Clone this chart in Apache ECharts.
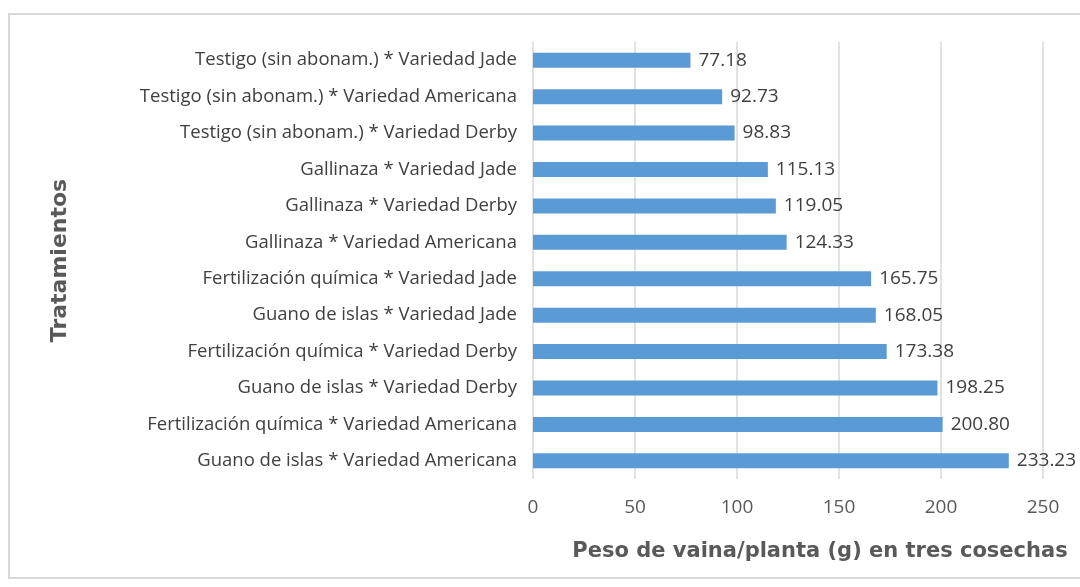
<!DOCTYPE html>
<html>
<head>
<meta charset="utf-8">
<script src="https://cdn.jsdelivr.net/npm/echarts@6/dist/echarts.min.js"></script>
<style>
  html, body { margin: 0; padding: 0; background: #fff; }
  #chart { width: 1080px; height: 587px; }
  #frame { position: absolute; left: 8px; top: 13px; width: 1090px; height: 566px; border: 2px solid #d9d9d9; box-sizing: border-box; pointer-events: none; }
</style>
</head>
<body>
<div id="chart"></div>
<div id="frame"></div>
<script>
// tratamientos, de abajo hacia arriba
const categories = [
  'Guano de islas * Variedad Americana',
  'Fertilización química * Variedad Americana',
  'Guano de islas * Variedad Derby',
  'Fertilización química * Variedad Derby',
  'Guano de islas * Variedad Jade',
  'Fertilización química * Variedad Jade',
  'Gallinaza * Variedad Americana',
  'Gallinaza * Variedad Derby',
  'Gallinaza * Variedad Jade',
  'Testigo (sin abonam.) * Variedad Derby',
  'Testigo (sin abonam.) * Variedad Americana',
  'Testigo (sin abonam.) * Variedad Jade'
];
const pesoVaina = [233.23, 200.80, 198.25, 173.38, 168.05, 165.75, 124.33, 119.05, 115.13, 98.83, 92.73, 77.18];
const xTicks = [0, 50, 100, 150, 200, 250];

const chart = echarts.init(document.getElementById('chart'));
const font = '"Open Sans", sans-serif';
const titleFont = '"DejaVu Sans", sans-serif';

chart.setOption({
  animation: false,
  grid: { left: 533, right: 37, top: 42, height: 437 },
  xAxis: {
    type: 'value',
    min: xTicks[0],
    max: xTicks[xTicks.length - 1],
    interval: 50,
    axisLine: { show: false },
    axisTick: { show: false },
    axisLabel: { color: '#595959', fontSize: 19, fontFamily: font, margin: 19 },
    splitLine: { lineStyle: { color: '#d9d9d9', width: 1.5 } },
    name: 'Peso de vaina/planta (g) en tres cosechas',
    nameLocation: 'middle',
    nameGap: 62,
    nameTextStyle: { color: '#595959', fontSize: 21, fontWeight: 'bold', fontFamily: titleFont, padding: [0, 0, 0, 64] }
  },
  yAxis: {
    type: 'category',
    data: categories,
    axisLine: { show: false },
    axisTick: { show: false },
    axisLabel: { color: '#404040', fontSize: 18.5, fontFamily: font, margin: 16 },
    name: 'Tratamientos',
    nameLocation: 'middle',
    nameGap: 462,
    nameTextStyle: { color: '#595959', fontSize: 22, fontWeight: 'bold', fontFamily: titleFont }
  },
  series: [{
    type: 'bar',
    data: pesoVaina,
    barWidth: 15,
    itemStyle: { color: '#5b9bd5' },
    label: {
      show: true,
      position: 'right',
      distance: 8,
      color: '#404040',
      fontSize: 19,
      fontFamily: font,
      formatter: p => p.value.toFixed(2)
    }
  }]
});
</script>
</body>
</html>
